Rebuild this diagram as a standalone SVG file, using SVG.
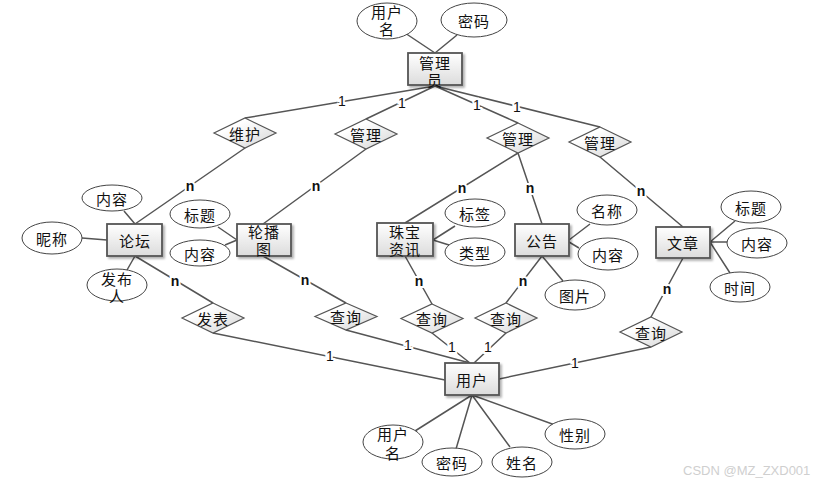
<svg xmlns="http://www.w3.org/2000/svg" width="835" height="486" viewBox="0 0 835 486">
<defs>
<linearGradient id="gBox" x1="0" y1="0" x2="0" y2="1"><stop offset="0" stop-color="#ffffff"/><stop offset="1" stop-color="#dcdcdc"/></linearGradient>
<linearGradient id="gDia" x1="0" y1="0" x2="1" y2="1"><stop offset="0.3" stop-color="#ffffff"/><stop offset="1" stop-color="#d4d4d4"/></linearGradient>
<filter id="sh" x="-20%" y="-20%" width="150%" height="150%"><feDropShadow dx="2" dy="2" stdDeviation="1.2" flood-color="#000" flood-opacity="0.3"/></filter>
</defs>
<style>
.box{fill:url(#gBox);stroke:#555;stroke-width:1.8;filter:url(#sh)}
.dia{fill:url(#gDia);stroke:#555;stroke-width:1.2}
.ell{fill:#fff;stroke:#444;stroke-width:1}
.ln{stroke:#555;stroke-width:1.5;fill:none}
text{font-family:"Noto Sans CJK SC","Microsoft YaHei",sans-serif;font-size:15px;fill:#111;text-anchor:middle;dominant-baseline:central;letter-spacing:1px}
.lbl{font-family:"Liberation Sans",Arial,sans-serif;font-size:14px;paint-order:stroke;stroke:#fff;stroke-width:4px;letter-spacing:0}
.n{font-weight:bold}
.wm{font-family:"Liberation Sans",Arial,sans-serif;font-size:13px;fill:#cfcfcf;text-anchor:start;letter-spacing:0}
</style>
<g id="connectors">
<path class="ln" d="M405,33 L435,53 M457,35 L435,53"/>
<path class="ln" d="M435,86 L245,118 M435,86 L366,119 M435,86 L518,123 M435,86 L600,127"/>
<path class="ln" d="M245,148 L135,224 M366,149 L263,224 M518,153 L405,223 M518,153 L542,224 M600,157 L683,227"/>
<path class="ln" d="M124,211 L135,224 M82,238 L107,240 M127,270 L135,256"/>
<path class="ln" d="M218,227 L237,240 M225,245 L237,240"/>
<path class="ln" d="M455,226 L433,240 M449,245 L433,240"/>
<path class="ln" d="M590,224 L569,240 M579,248 L569,242 M563,281 L542,256"/>
<path class="ln" d="M735,221 L710,242 M727,242 L710,242 M730,273 L710,242"/>
<path class="ln" d="M135,256 L213,303 M263,256 L346,303 M405,256 L432,304 M542,256 L506,303 M683,258 L651,317"/>
<path class="ln" d="M213,333 L445,380 M346,330 L470,363 M432,333 L470,363 M506,333 L474,363 M651,347 L499,379"/>
<path class="ln" d="M472,395 L415,431 M472,395 L456,449 M472,395 L510,447 M472,395 L555,425"/>
<text class="lbl" x="342" y="101">1</text>
<text class="lbl" x="402" y="103">1</text>
<text class="lbl" x="477" y="105">1</text>
<text class="lbl" x="517" y="107">1</text>
<text class="lbl n" x="190" y="186">n</text>
<text class="lbl n" x="316" y="186">n</text>
<text class="lbl n" x="462" y="188">n</text>
<text class="lbl n" x="530" y="188">n</text>
<text class="lbl n" x="641" y="191">n</text>
<text class="lbl n" x="175" y="281">n</text>
<text class="lbl n" x="305" y="280">n</text>
<text class="lbl n" x="419" y="281">n</text>
<text class="lbl n" x="523" y="281">n</text>
<text class="lbl n" x="667" y="289">n</text>
<text class="lbl" x="330" y="356">1</text>
<text class="lbl" x="408" y="345">1</text>
<text class="lbl" x="452" y="347">1</text>
<text class="lbl" x="488" y="347">1</text>
<text class="lbl" x="575" y="363">1</text>
</g>
<g id="admin"><rect class="box" x="408" y="53" width="54" height="32"/><text x="435" y="62">管理<tspan x="435" dy="17">员</tspan></text></g>
<g id="admin-username"><ellipse class="ell" cx="387" cy="21" rx="30" ry="18"/><text x="387" y="11">用户<tspan x="387" dy="17">名</tspan></text></g>
<g id="admin-password"><ellipse class="ell" cx="474" cy="20" rx="33" ry="17"/><text x="474" y="20">密码</text></g>
<g id="rel-maintain"><polygon class="dia" points="245,118 276,133 245,148 214,133"/><text x="245" y="133">维护</text></g>
<g id="rel-manage1"><polygon class="dia" points="366,119 397,134 366,149 335,134"/><text x="366" y="134">管理</text></g>
<g id="rel-manage2"><polygon class="dia" points="518,123 549,138 518,153 487,138"/><text x="518" y="138">管理</text></g>
<g id="rel-manage3"><polygon class="dia" points="600,127 631,142 600,157 569,142"/><text x="600" y="142">管理</text></g>
<g id="forum"><rect class="box" x="107" y="224" width="55" height="32"/><text x="135" y="240">论坛</text></g>
<g id="forum-content"><ellipse class="ell" cx="112" cy="198" rx="30" ry="13"/><text x="112" y="198">内容</text></g>
<g id="forum-nick"><ellipse class="ell" cx="52" cy="238" rx="30" ry="16"/><text x="52" y="238">昵称</text></g>
<g id="forum-publisher"><ellipse class="ell" cx="117" cy="285" rx="30" ry="16"/><text x="117" y="278">发布<tspan x="117" dy="17">人</tspan></text></g>
<g id="carousel"><rect class="box" x="237" y="224" width="54" height="32"/><text x="264" y="231">轮播<tspan x="264" dy="17">图</tspan></text></g>
<g id="carousel-title"><ellipse class="ell" cx="200" cy="214" rx="30" ry="14"/><text x="200" y="214">标题</text></g>
<g id="carousel-content"><ellipse class="ell" cx="200" cy="253" rx="30" ry="13"/><text x="200" y="253">内容</text></g>
<g id="jewelry-news"><rect class="box" x="377" y="223" width="56" height="33"/><text x="405" y="231">珠宝<tspan x="405" dy="17">资讯</tspan></text></g>
<g id="jn-tag"><ellipse class="ell" cx="475" cy="213" rx="30" ry="14"/><text x="475" y="213">标签</text></g>
<g id="jn-type"><ellipse class="ell" cx="475" cy="252" rx="30" ry="14"/><text x="475" y="252">类型</text></g>
<g id="notice"><rect class="box" x="515" y="224" width="54" height="32"/><text x="542" y="240">公告</text></g>
<g id="notice-name"><ellipse class="ell" cx="607" cy="210" rx="30" ry="15"/><text x="607" y="210">名称</text></g>
<g id="notice-content"><ellipse class="ell" cx="608" cy="254" rx="30" ry="16"/><text x="608" y="254">内容</text></g>
<g id="notice-image"><ellipse class="ell" cx="575" cy="295" rx="30" ry="15"/><text x="575" y="295">图片</text></g>
<g id="article"><rect class="box" x="656" y="227" width="54" height="31"/><text x="683" y="242">文章</text></g>
<g id="article-title"><ellipse class="ell" cx="751" cy="207" rx="30" ry="16"/><text x="751" y="207">标题</text></g>
<g id="article-content"><ellipse class="ell" cx="757" cy="243" rx="30" ry="15"/><text x="757" y="243">内容</text></g>
<g id="article-time"><ellipse class="ell" cx="740" cy="287" rx="30" ry="15"/><text x="740" y="287">时间</text></g>
<g id="rel-publish"><polygon class="dia" points="213,303 244,318 213,333 182,318"/><text x="213" y="318">发表</text></g>
<g id="rel-query1"><polygon class="dia" points="346,303 377,316.5 346,330 315,316.5"/><text x="346" y="316">查询</text></g>
<g id="rel-query2"><polygon class="dia" points="432,304 463,318.5 432,333 401,318.5"/><text x="432" y="318">查询</text></g>
<g id="rel-query3"><polygon class="dia" points="506,303 537,318 506,333 475,318"/><text x="506" y="318">查询</text></g>
<g id="rel-query4"><polygon class="dia" points="651,317 682,332 651,347 620,332"/><text x="651" y="332">查询</text></g>
<g id="user"><rect class="box" x="445" y="363" width="54" height="32"/><text x="472" y="379">用户</text></g>
<g id="user-username"><ellipse class="ell" cx="393" cy="442" rx="30" ry="17"/><text x="393" y="433">用户<tspan x="393" dy="19">名</tspan></text></g>
<g id="user-password"><ellipse class="ell" cx="452" cy="462" rx="30" ry="14"/><text x="452" y="462">密码</text></g>
<g id="user-name"><ellipse class="ell" cx="522" cy="462" rx="30" ry="15"/><text x="522" y="462">姓名</text></g>
<g id="user-gender"><ellipse class="ell" cx="575" cy="434" rx="30" ry="15"/><text x="575" y="434">性别</text></g>
<text class="wm" x="683" y="470">CSDN @MZ_ZXD001</text>
</svg>
